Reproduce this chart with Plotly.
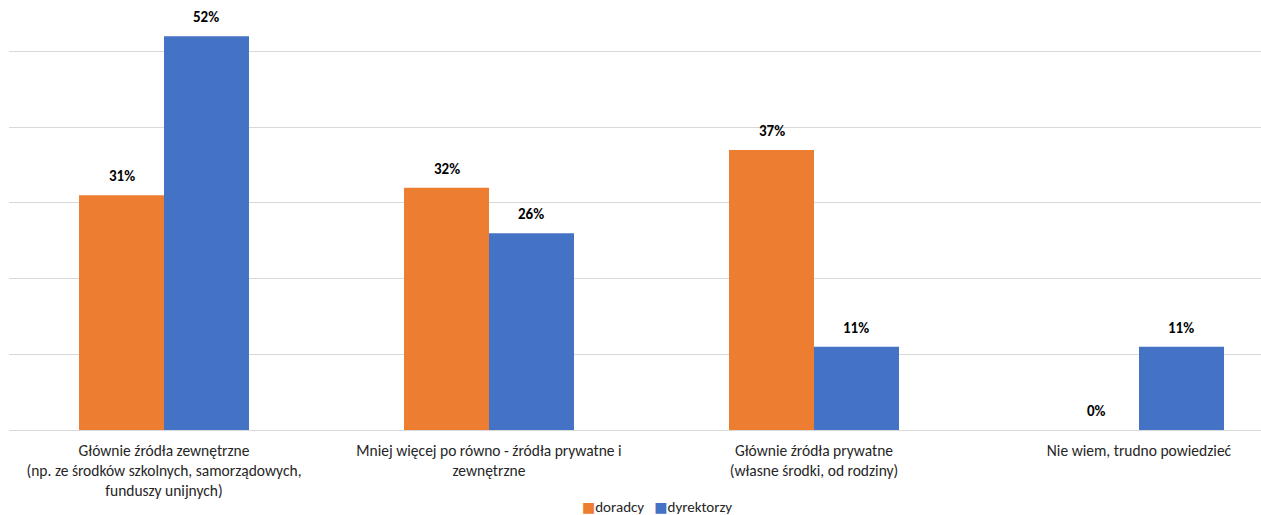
import plotly.graph_objects as go

# Survey answers: where the funding comes from
categories = [
    "Głównie źródła zewnętrzne<br>(np. ze środków szkolnych, samorządowych,<br>funduszy unijnych)",
    "Mniej więcej po równo - źródła prywatne i<br>zewnętrzne",
    "Głównie źródła prywatne<br>(własne środki, od rodziny)",
    "Nie wiem, trudno powiedzieć",
]
series_names = ["doradcy", "dyrektorzy"]
doradcy = [31, 32, 37, 0]
dyrektorzy = [52, 26, 11, 11]

ORANGE = "#ED7D31"
BLUE = "#4472C4"
FONT = "Calibri, Carlito, Lato, 'Open Sans', sans-serif"
TEXT = "#262626"

positions = list(range(len(categories)))
bar_w = 0.2615

fig = go.Figure()
fig.add_trace(go.Bar(x=positions, y=doradcy, name=series_names[0], marker_color=ORANGE,
                     width=bar_w, offset=-bar_w, marker_line_width=0))
fig.add_trace(go.Bar(x=positions, y=dyrektorzy, name=series_names[1], marker_color=BLUE,
                     width=bar_w, offset=0, marker_line_width=0))

# value labels above each bar
for series, shift in ((doradcy, -bar_w / 2), (dyrektorzy, bar_w / 2)):
    for p, v in zip(positions, series):
        fig.add_annotation(x=p + shift, y=v, text=f"<b>{v}%</b>", showarrow=False,
                           yanchor="bottom", yshift=8,
                           font=dict(family=FONT, size=15, color="#000000"))

# legend row under the category labels
sq = "<span style='font-family:DejaVu Sans;font-size:14px;color:{c}'>■</span>"
legend_text = (sq.format(c=ORANGE) + series_names[0] + "&nbsp;&nbsp;&nbsp;"
               + sq.format(c=BLUE) + series_names[1])
fig.add_annotation(xref="paper", yref="paper", x=(657 - 9) / 1252, y=-77 / 430,
                   xanchor="center", yanchor="middle", showarrow=False,
                   text=legend_text, font=dict(family=FONT, size=15, color=TEXT))

fig.update_layout(
    width=1261, height=515,
    margin=dict(l=9, r=0, t=0, b=85),
    plot_bgcolor="white", paper_bgcolor="white",
    barmode="overlay",
    font=dict(family=FONT, size=15, color=TEXT),
    showlegend=False,
)
fig.update_xaxes(
    range=[-155 / 325, 3 + 122 / 325],
    tickmode="array", tickvals=positions, ticktext=categories,
    showgrid=False, zeroline=False, showline=False, ticks="",
    tickfont=dict(family=FONT, size=15.5, color=TEXT),
    ticklabelstandoff=9,
)
fig.update_yaxes(
    range=[0, 56.8], dtick=10, showticklabels=False,
    showgrid=True, gridcolor="#D9D9D9", gridwidth=1,
    zeroline=True, zerolinecolor="#D9D9D9", zerolinewidth=1,
)

fig.write_html("out.html")
